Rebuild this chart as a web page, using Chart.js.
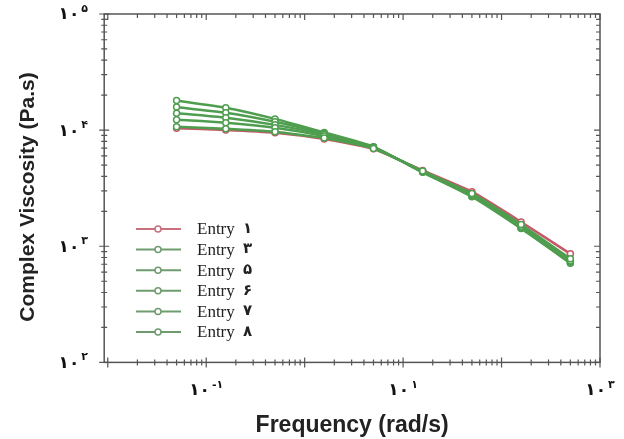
<!DOCTYPE html>
<html>
<head>
<meta charset="utf-8">
<script src="https://cdn.jsdelivr.net/npm/chart.js@4.4.1/dist/chart.umd.min.js"></script>
<style>
  html, body { margin: 0; padding: 0; background: #fff; }
  #wrap { width: 624px; height: 439px; }
</style>
</head>
<body>
<div id="wrap"><canvas id="grafico" width="624" height="439"></canvas></div>
<script>
// dados
const frequencias = [0.05, 0.158, 0.5, 1.58, 5, 15.8, 50, 158, 500];
const entry1 = [10400, 10050, 9500, 8400, 6900, 4500, 2950, 1620, 860];
const entry3 = [10700, 10300, 9700, 8550, 6950, 4450, 2850, 1540, 780];
const entry5 = [12300, 11600, 10500, 8900, 7050, 4400, 2780, 1490, 750];
const entry6 = [14000, 12800, 11100, 9150, 7100, 4380, 2730, 1460, 735];
const entry7 = [15800, 14100, 11800, 9350, 7150, 4350, 2700, 1440, 725];
const entry8 = [18000, 15600, 12500, 9550, 7200, 4330, 2670, 1420, 715];
const rotulos = ['Entry ۱', 'Entry ۳', 'Entry ۵', 'Entry ۶', 'Entry ۷', 'Entry ۸'];
const xDecadas = [-1, 1, 3];
const yDecadas = [2, 3, 4, 5];

const vermelho = '#c45a68';
const verde = '#4f9e4f';
const digitosFa = '۰۱۲۳۴۵۶۷۸۹';
const fa = n => String(n).replace(/\d/g, d => digitosFa[d]);

const serie = (label, valores, cor, legendaCor, ordem) => ({
  label,
  data: frequencias.map((f, i) => ({ x: f, y: valores[i] })),
  borderColor: cor,
  legendaCor,
  borderWidth: 2.5,
  pointRadius: 3,
  pointBorderWidth: 1.5,
  pointBackgroundColor: '#fff',
  pointBorderColor: cor,
  tension: 0.15,
  order: ordem
});

// moldura, ticks, rótulos persas e legenda
const extras = {
  id: 'extras',
  afterDraw(chart) {
    const ctx = chart.ctx;
    const { left, right, top, bottom } = chart.chartArea;
    const xs = chart.scales.x, ys = chart.scales.y;
    ctx.save();
    ctx.strokeStyle = '#555';
    ctx.lineWidth = 1.5;
    ctx.strokeRect(left, top, right - left, bottom - top);
    ctx.lineWidth = 1.2;
    ctx.beginPath();
    for (let d = -2; d <= 3; d++) {
      for (let m = 1; m <= 9; m++) {
        const v = m * Math.pow(10, d);
        if (v < xs.min || v > xs.max) continue;
        const px = xs.getPixelForValue(v);
        const len = m === 1 ? 5 : 3;
        ctx.moveTo(px, bottom - len); ctx.lineTo(px, bottom + len);
        ctx.moveTo(px, top); ctx.lineTo(px, top + len + 1);
      }
    }
    for (let d = 2; d <= 5; d++) {
      for (let m = 1; m <= 9; m++) {
        const v = m * Math.pow(10, d);
        if (v < ys.min || v > ys.max) continue;
        const py = ys.getPixelForValue(v);
        const len = m === 1 ? 5 : 3;
        ctx.moveTo(left - len, py); ctx.lineTo(left + len, py);
        ctx.moveTo(right - len - 1, py); ctx.lineTo(right, py);
      }
    }
    ctx.stroke();

    // rótulos dos eixos em dígitos persas
    const base = 'bold 17px "DejaVu Sans"';
    const sup = 'bold 11px "DejaVu Sans"';
    ctx.fillStyle = '#111';
    ctx.textBaseline = 'middle';
    yDecadas.forEach(d => {
      const py = ys.getPixelForValue(Math.pow(10, d));
      ctx.font = sup;
      const ws = ctx.measureText(fa(d)).width;
      ctx.textAlign = 'left';
      ctx.fillText(fa(d), 88 - ws, py - 5);
      ctx.font = base;
      ctx.textAlign = 'right';
      ctx.fillText('۱۰', 88 - ws - 2, py + 1);
    });
    xDecadas.forEach(d => {
      const px = xs.getPixelForValue(Math.pow(10, d));
      const s = (d < 0 ? '-' : '') + fa(Math.abs(d));
      ctx.font = base;
      const wb = ctx.measureText('۱۰').width;
      ctx.font = sup;
      const ws = ctx.measureText(s).width;
      const x0 = px - (wb + 2 + ws) / 2;
      ctx.textAlign = 'left';
      ctx.fillText(s, x0 + wb + 2, 385);
      ctx.font = base;
      ctx.fillText('۱۰', x0, 391);
    });

    // legenda dentro do gráfico
    chart.data.datasets.forEach((ds, i) => {
      const y = 229 + i * 20.6;
      ctx.strokeStyle = ds.legendaCor;
      ctx.lineWidth = 2;
      ctx.beginPath();
      ctx.moveTo(136, y); ctx.lineTo(181, y);
      ctx.stroke();
      ctx.beginPath();
      ctx.arc(158, y, 3, 0, Math.PI * 2);
      ctx.fillStyle = '#fff';
      ctx.fill();
      ctx.lineWidth = 1.5;
      ctx.stroke();
      ctx.fillStyle = '#222';
      ctx.textAlign = 'left';
      ctx.font = '17px "Liberation Serif"';
      ctx.fillText('Entry', 197, y + 1);
      ctx.font = 'bold 15px "DejaVu Sans"';
      ctx.fillText(ds.label.split(' ')[1], 243, y);
    });
    ctx.restore();
  }
};

new Chart(document.getElementById('grafico'), {
  type: 'line',
  data: {
    datasets: [
      serie(rotulos[0], entry1, vermelho, '#c8707c', 10),
      serie(rotulos[1], entry3, verde, '#6f9c6f', 0),
      serie(rotulos[2], entry5, verde, '#6f9c6f', 0),
      serie(rotulos[3], entry6, verde, '#6f9c6f', 0),
      serie(rotulos[4], entry7, verde, '#6f9c6f', 0),
      serie(rotulos[5], entry8, verde, '#6f9c6f', 0)
    ]
  },
  options: {
    responsive: false,
    animation: false,
    layout: { padding: { left: 10, top: 14, right: 24, bottom: 0 } },
    plugins: { legend: { display: false }, tooltip: { enabled: false } },
    scales: {
      x: {
        type: 'logarithmic',
        min: 0.0092,
        max: 1000,
        grid: { display: false },
        border: { display: false },
        ticks: { display: false },
        title: {
          display: true,
          text: 'Frequency (rad/s)',
          color: '#222',
          font: { family: 'Liberation Sans', size: 23, weight: 'bold' },
          padding: { top: 41, bottom: 0 }
        }
      },
      y: {
        type: 'logarithmic',
        min: 100,
        max: 100000,
        grid: { display: false },
        border: { display: false },
        ticks: { display: false },
        title: {
          display: true,
          text: 'Complex Viscosity (Pa.s)\u00a0\u00a0\u00a0',
          color: '#222',
          font: { family: 'Liberation Sans', size: 21, weight: 'bold' },
          padding: { top: 6, bottom: 55 }
        }
      }
    }
  },
  plugins: [extras]
});
</script>
</body>
</html>
